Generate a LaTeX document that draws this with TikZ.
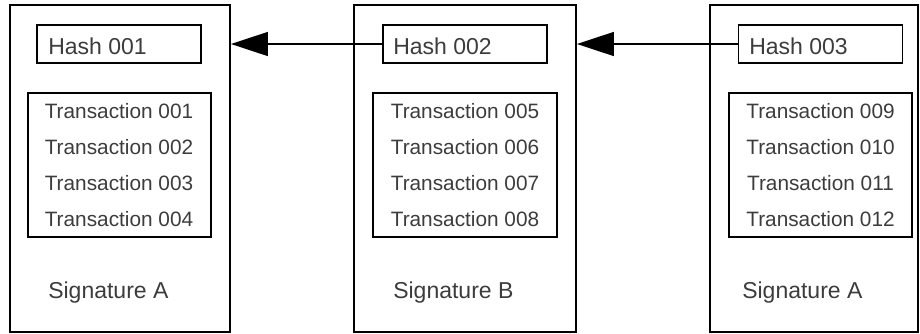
\documentclass[tikz,border=0pt]{standalone}
\usepackage{fontspec}
\setmainfont{Liberation Sans}
\usetikzlibrary{arrows.meta}
\definecolor{ink}{HTML}{3C3C3C}
\tikzset{
  block/.style 2 args={draw=black, line width=1.4pt, inner sep=0pt,
    minimum width=#1*0.75pt, minimum height=#2*0.75pt},
  hashbox/.style={draw=black, line width=1.3pt, inner sep=0pt,
    minimum width=164*0.75pt, minimum height=38*0.75pt},
  txbox/.style={draw=black, line width=1.2pt, inner sep=0pt,
    minimum width=183*0.75pt, minimum height=144*0.75pt},
  bigtext/.style={text=ink, font=\fontsize{17.25}{20}\selectfont, inner sep=0pt},
  txtext/.style={text=ink, font=\fontsize{15.6}{18}\selectfont, inner sep=0pt, anchor=base},
  link/.style={draw=black, line width=1.1pt, -{Triangle[length=27.75pt,width=18pt]}}
}
\begin{document}
\begin{tikzpicture}[x=0.75pt, y=-0.75pt]
  \useasboundingbox (0,0) rectangle (920,333);

  % three blocks of the chain
  \node[block={220}{327}] (b1) at (120,168.5) {};
  \node[block={222}{327}] (b2) at (465,168.5) {};
  \node[block={208}{327}] (b3) at (814,168.5) {};

  % hash fields
  \node[hashbox] (h1) at (119,44) {};
  \node[hashbox] (h2) at (465,44) {};
  \node[hashbox] (h3) at (820.5,44) {};
  \node[bigtext, anchor=base west] (h1t) at (48,54) {Hash 001};
  \node[bigtext, anchor=base west] (h2t) at (393,54) {Hash 002};
  \node[bigtext, anchor=base west] (h3t) at (749,54) {Hash 003};

  % transaction lists
  \node[txbox] (t1) at (119.5,165) {};
  \node[txbox, minimum width=184*0.75pt] (t2) at (465,165) {};
  \node[txbox] (t3) at (820.5,165) {};

  \node[txtext] (t1a) at (119,118) {Transaction 001};
  \node[txtext] (t1b) at (119,154) {Transaction 002};
  \node[txtext] (t1c) at (119,190) {Transaction 003};
  \node[txtext] (t1d) at (119,226) {Transaction 004};

  \node[txtext] (t2a) at (465,118) {Transaction 005};
  \node[txtext] (t2b) at (465,154) {Transaction 006};
  \node[txtext] (t2c) at (465,190) {Transaction 007};
  \node[txtext] (t2d) at (465,226) {Transaction 008};

  \node[txtext] (t3a) at (820.5,118) {Transaction 009};
  \node[txtext] (t3b) at (820.5,154) {Transaction 010};
  \node[txtext] (t3c) at (820.5,190) {Transaction 011};
  \node[txtext] (t3d) at (820.5,226) {Transaction 012};

  % signatures
  \node[bigtext, anchor=base west] (s1) at (48,298) {Signature A};
  \node[bigtext, anchor=base west] (s2) at (393,298) {Signature B};
  \node[bigtext, anchor=base west] (s3) at (742,298) {Signature A};

  % back links from each hash to the previous block
  \draw[link] (h2.west) -- (h2.west -| b1.east);
  \draw[link] (h3.west) -- (h3.west -| b2.east);
\end{tikzpicture}
\end{document}
